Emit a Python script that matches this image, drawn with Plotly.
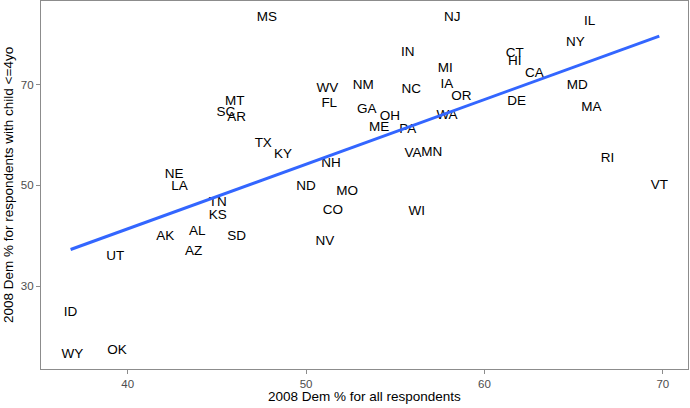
import numpy as np
import plotly.graph_objects as go

# state labels and their (x, y) values
states = ["MS", "NJ", "IL", "NY", "IN", "CT", "HI", "MI", "CA", "NM",
          "NC", "IA", "OR", "MD", "DE", "MA", "GA", "OH", "ME", "PA",
          "WA", "VA", "MN", "RI", "VT", "MO", "WV", "FL", "MT", "SC",
          "AR", "TX", "KY", "NH", "NE", "LA", "ND", "TN", "KS", "CO",
          "AK", "AL", "AZ", "SD", "NV", "UT", "ID", "WY", "OK", "WI"]
dem_all = [47.8, 58.2, 65.9, 65.1, 55.7, 61.7, 61.7, 57.8, 62.8, 53.2,
           55.9, 57.9, 58.7, 65.2, 61.8, 66.0, 53.4, 54.7, 54.1, 55.7,
           57.9, 56.0, 57.05, 66.9, 69.8, 52.3, 51.2, 51.3, 46.0, 45.5,
           46.1, 47.6, 48.7, 51.4, 42.6, 42.9, 50.0, 45.05, 45.05, 51.5,
           42.1, 43.9, 43.7, 46.1, 51.05, 39.3, 36.8, 36.9, 39.4, 56.2]
dem_kids = [83.3, 83.3, 82.5, 78.3, 76.3, 76.1, 74.6, 73.2, 72.2, 69.8,
            69.0, 70.0, 67.6, 69.8, 66.6, 65.4, 65.0, 63.7, 61.5, 61.1,
            63.9, 56.3, 56.5, 55.3, 50.0, 48.8, 69.2, 66.2, 66.6, 64.5,
            63.5, 58.3, 56.1, 54.4, 52.2, 49.8, 49.8, 46.6, 44.1, 45.05,
            39.9, 40.9, 36.9, 39.9, 38.9, 35.9, 24.8, 16.5, 17.3, 44.7]

# linear fit, like geom_smooth(method = "lm", se = FALSE)
slope, intercept = np.polyfit(dem_all, dem_kids, 1)
fit_x = np.array([min(dem_all), max(dem_all)])
fit_y = intercept + slope * fit_x

FONT = "Liberation Sans, Arial, sans-serif"

fig = go.Figure()
fig.add_trace(go.Scatter(
    x=dem_all, y=dem_kids, text=states, mode="text",
    textfont=dict(family=FONT, size=13.5, color="black"),
    textposition="middle center", showlegend=False, hoverinfo="text"))
fig.add_trace(go.Scatter(
    x=fit_x, y=fit_y, mode="lines",
    line=dict(color="#3366FF", width=3), showlegend=False))

axis_style = dict(showgrid=False, zeroline=False, showline=True, mirror=True,
                  linecolor="#8c8c8c", linewidth=1.3, ticks="outside",
                  tickcolor="#8c8c8c", ticklen=4, tickwidth=1.2, automargin=False,
                  tickfont=dict(family=FONT, size=11.5, color="#4d4d4d"))

fig.update_xaxes(range=[35.14, 71.41], tickvals=[40, 50, 60, 70], **axis_style)
fig.update_yaxes(range=[13.56, 86.6], tickvals=[30, 50, 70], **axis_style)

# axis titles as annotations so the panel keeps its place
fig.add_annotation(text="2008 Dem % for all respondents", xref="paper", yref="paper",
                   x=0.5, y=0, yshift=-27, yanchor="middle", showarrow=False,
                   font=dict(family=FONT, size=13.5, color="black"))
fig.add_annotation(text="2008 Dem % for respondents with child <=4yo", xref="paper", yref="paper",
                   x=0, y=0.5, xshift=-33, xanchor="center", textangle=-90, showarrow=False,
                   font=dict(family=FONT, size=13.5, color="black"))

fig.update_layout(width=690, height=408, plot_bgcolor="white", paper_bgcolor="white",
                  margin=dict(l=41, r=2, t=1, b=39))

# drop the browser's default body margin so the figure sits at the page corner
fig.write_html("out.html", config={"displayModeBar": False},
               post_script="document.body.style.margin='0';")
